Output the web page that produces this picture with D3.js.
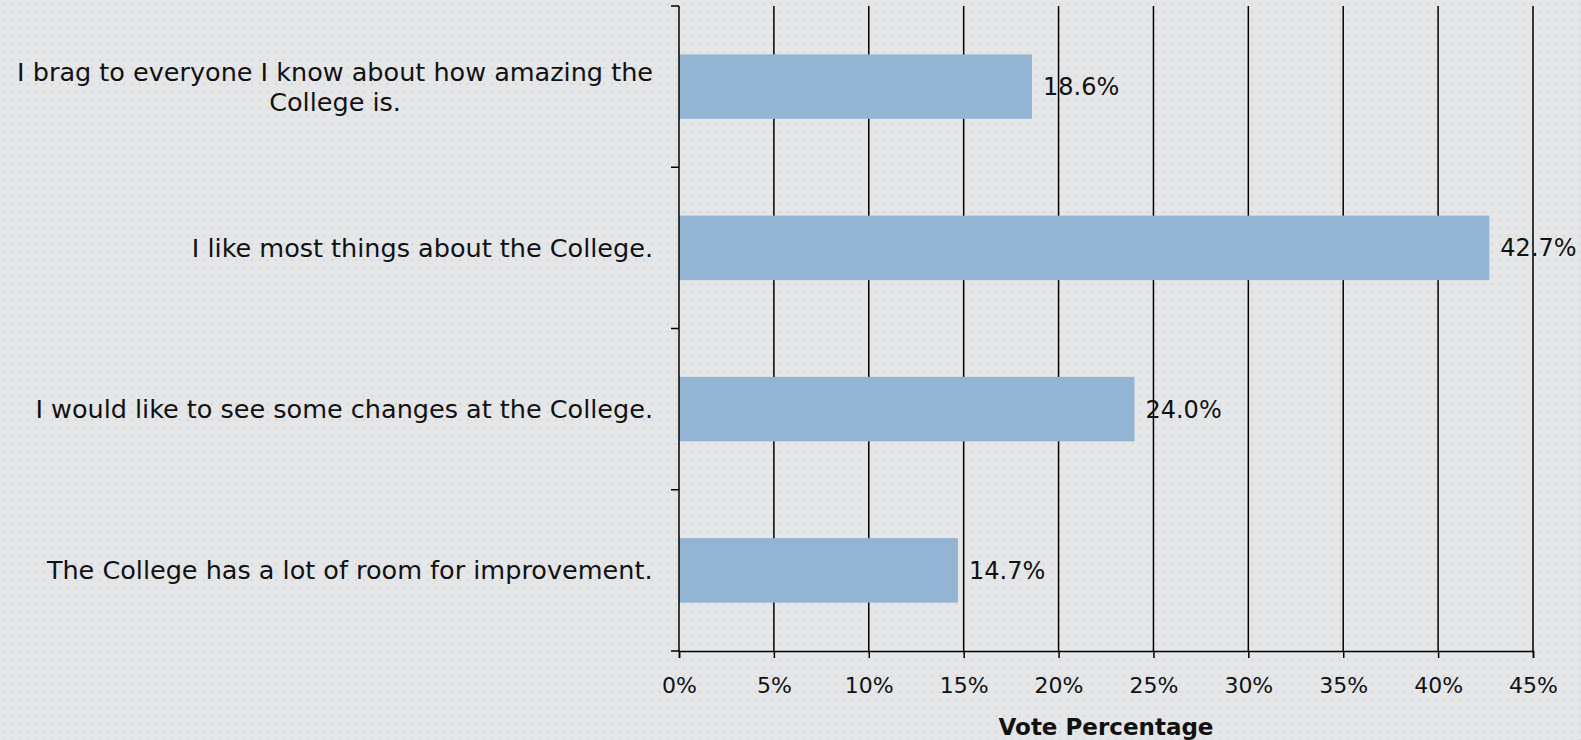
<!DOCTYPE html>
<html>
<head>
<meta charset="utf-8">
<script src="https://cdn.jsdelivr.net/npm/d3@7"></script>
<style>
  html, body { margin: 0; padding: 0; background: #e5e6e8; }
  svg { display: block; }
  text { font-family: "DejaVu Sans", sans-serif; fill: #111; }
</style>
</head>
<body>
<svg id="chart" width="1581" height="740"></svg>
<script>
const categories = [
  ["I brag to everyone I know about how amazing the", "College is."],
  ["I like most things about the College."],
  ["I would like to see some changes at the College."],
  ["The College has a lot of room for improvement."]
];
const values = [18.6, 42.7, 24.0, 14.7];
const tickValues = [0, 5, 10, 15, 20, 25, 30, 35, 40, 45];
const axisTitle = "Vote Percentage";

const W = 1581, H = 740;
const margin = { left: 679, right: 48, top: 6, bottom: 89 };
const svg = d3.select("#chart");

// background pattern
const defs = svg.append("defs");
const pat = defs.append("pattern").attr("id", "dots").attr("patternUnits", "userSpaceOnUse")
  .attr("width", 8).attr("height", 8);
pat.append("rect").attr("width", 8).attr("height", 8).attr("fill", "#e5e6e8");
pat.append("rect").attr("x", 3).attr("y", 3).attr("width", 2).attr("height", 2).attr("fill", "#d5d7da");
svg.append("rect").attr("width", W).attr("height", H).attr("fill", "url(#dots)");

const x = d3.scaleLinear().domain([0, 45]).range([margin.left, W - margin.right]);
const y = d3.scaleBand().domain(d3.range(categories.length))
  .range([margin.top, H - margin.bottom]).paddingInner(0.6).paddingOuter(0.3);
const y0 = margin.top, y1 = H - margin.bottom;

// vertical gridlines
svg.append("g").selectAll("line").data(tickValues.slice(1)).join("line")
  .attr("x1", d => x(d)).attr("x2", d => x(d))
  .attr("y1", y0).attr("y2", y1)
  .attr("stroke", "#000").attr("stroke-width", 1.5);

// bars
svg.append("g").selectAll("rect").data(values).join("rect")
  .attr("x", x(0)).attr("y", (d, i) => y(i))
  .attr("width", d => x(d) - x(0)).attr("height", y.bandwidth())
  .attr("fill", "#93b5d3");

// value labels
svg.append("g").selectAll("text").data(values).join("text")
  .attr("x", d => x(d) + 11).attr("y", (d, i) => y(i) + y.bandwidth() / 2)
  .attr("dy", "0.35em").attr("font-size", 24)
  .text(d => d.toFixed(1) + "%");

// x axis
const xAxis = d3.axisBottom(x).tickValues(tickValues).tickSize(7).tickPadding(19)
  .tickFormat(d => d + "%");
const gx = svg.append("g").attr("transform", `translate(0,${y1})`).call(xAxis);
gx.select(".domain").attr("stroke", "#000").attr("stroke-width", 1.5);
gx.selectAll(".tick line").attr("stroke", "#000").attr("stroke-width", 1.5);
gx.selectAll(".tick text").attr("font-size", 22).attr("fill", "#111")
  .attr("font-family", "DejaVu Sans, sans-serif");

// y axis line and ticks (between categories)
const boundaries = d3.range(categories.length + 1).map(i => y0 + i * (y1 - y0) / categories.length);
svg.append("line").attr("x1", x(0)).attr("x2", x(0)).attr("y1", y0).attr("y2", y1)
  .attr("stroke", "#000").attr("stroke-width", 1.5);
svg.append("g").selectAll("line").data(boundaries).join("line")
  .attr("x1", x(0) - 8).attr("x2", x(0)).attr("y1", d => d).attr("y2", d => d)
  .attr("stroke", "#000").attr("stroke-width", 1.5);

// category labels
const lineH = 30;
const labelG = svg.append("g");
categories.forEach((lines, i) => {
  const cy = y(i) + y.bandwidth() / 2;
  const t = labelG.append("text").attr("font-size", 25.5).attr("text-anchor", "middle");
  lines.forEach((ln, j) => {
    t.append("tspan").attr("x", 0)
      .attr("y", cy + (j - (lines.length - 1) / 2) * lineH)
      .attr("dy", "0.35em").text(ln);
  });
  const bw = t.node().getBBox().width;
  t.attr("transform", `translate(${653 - bw / 2},0)`);
});

// axis title
svg.append("text").attr("x", (x(0) + x(45)) / 2).attr("y", 727)
  .attr("text-anchor", "middle").attr("dy", "0.35em")
  .attr("font-size", 23).attr("font-weight", "bold").text(axisTitle);
</script>
</body>
</html>
